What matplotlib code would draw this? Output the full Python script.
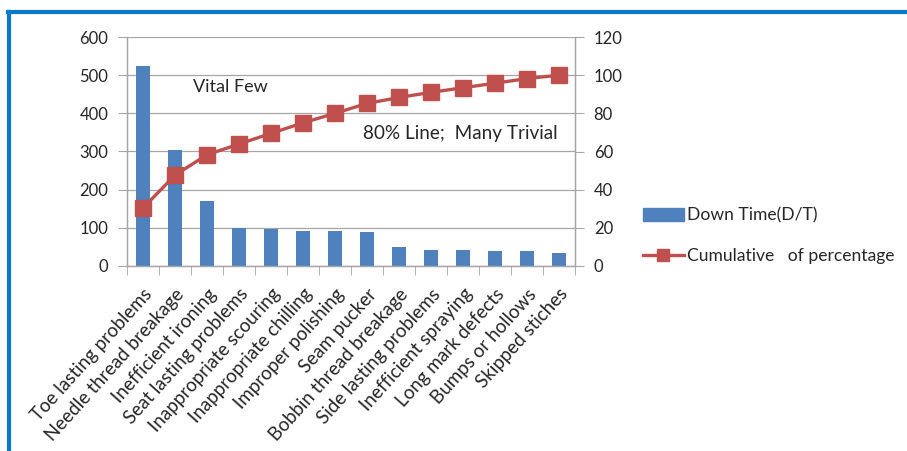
import matplotlib
matplotlib.use("Agg")
import matplotlib.pyplot as plt
from matplotlib.lines import Line2D
from matplotlib.transforms import ScaledTranslation

plt.rcParams['font.family'] = ['Lato', 'DejaVu Sans']

categories = ["Toe lasting problems", "Needle thread breakage", "Inefficient ironing",
              "Seat lasting problems", "Inappropriate scouring", "Inappropriate chilling",
              "Improper polishing", "Seam pucker", "Bobbin thread breakage",
              "Side lasting problems", "Inefficient spraying", "Long mark defects",
              "Bumps or hollows", "Skipped stiches"]
down_time = [525, 304, 171, 100, 96, 92, 92, 88, 51, 42, 42, 40, 40, 33]
cumulative = [30.4, 47.6, 58.3, 63.9, 69.5, 75.0, 80.0, 85.2, 88.3, 91.0, 93.4, 95.8, 98.2, 100]
left_ticks = [0, 100, 200, 300, 400, 500, 600]
right_ticks = [0, 20, 40, 60, 80, 100, 120]

W, H = 907, 451
fig = plt.figure(figsize=(W/100, H/100), dpi=100)
ax = fig.add_axes([127/W, 1-266/H, 448/W, 229/H])
ax2 = ax.twinx()

blue = '#4F81BD'
red = '#C0504D'
grid = '#A6A6A6'
txt = '#262626'
fs = 12

x = list(range(len(categories)))
ax.bar(x, down_time, width=0.42, color=blue, zorder=2)
ax.set_xlim(-0.5, len(categories)-0.5)
ax.set_ylim(0, 600)
ax.set_yticks(left_ticks)
ax.yaxis.grid(True, color=grid, linewidth=0.9, zorder=0)
ax.set_axisbelow(True)

ax2.plot(x, cumulative, color=red, linewidth=2.4, marker='s', markersize=11,
         markerfacecolor=red, markeredgecolor=red, zorder=3)
ax2.set_ylim(0, 120)
ax2.set_yticks(right_ticks)

ax.set_xticks(x)
ax.set_xticklabels(categories, rotation=48, ha='right', rotation_mode='anchor',
                   fontsize=13.5, color=txt)
shift = ScaledTranslation(-4/100, 0, fig.dpi_scale_trans)
for lab in ax.get_xticklabels():
    lab.set_transform(lab.get_transform() + shift)
ax.set_xticks([i - 0.5 for i in range(len(categories)+1)], minor=True)
ax.tick_params(axis='x', which='major', length=0, pad=14)
ax.tick_params(axis='x', which='minor', length=6.5, color=grid, direction='out')
ax.tick_params(axis='y', length=6.5, color=grid, labelsize=fs, labelcolor=txt, pad=7)
ax2.tick_params(axis='y', length=6.5, color=grid, labelsize=fs, labelcolor=txt, pad=7)

for a in (ax, ax2):
    a.spines['top'].set_visible(False)
    for s in ('left', 'right', 'bottom'):
        a.spines[s].set_color(grid)
        a.spines[s].set_linewidth(0.9)

ax.text(193/W, 1-87/H, 'Vital Few', transform=fig.transFigure, fontsize=13,
        color=txt, va='center', ha='left')
ax.text(363/W, 1-133/H, '80% Line;  Many Trivial', transform=fig.transFigure,
        fontsize=13.6, color=txt, va='center', ha='left')

handles = [plt.Rectangle((0, 0), 1, 1, color=blue),
           Line2D([0], [0], color=red, linewidth=2.4, marker='s', markersize=9)]
fig.legend(handles, ['Down Time(D/T)', 'Cumulative   of percentage'],
           loc='center left', bbox_to_anchor=(638/W, 1-236/H), frameon=False,
           fontsize=12.6, handlelength=2.3, handleheight=0.8, handletextpad=0.2,
           labelspacing=1.4, borderaxespad=0, borderpad=0.3, labelcolor=txt)

border = '#0A79C8'
fig.add_artist(Line2D([8/W, 1], [1-12/H, 1-12/H], transform=fig.transFigure,
                      color=border, linewidth=3))
fig.add_artist(Line2D([8.5/W, 8.5/W], [1-12/H, 0], transform=fig.transFigure,
                      color=border, linewidth=3))

fig.savefig('out.png', dpi=100)
